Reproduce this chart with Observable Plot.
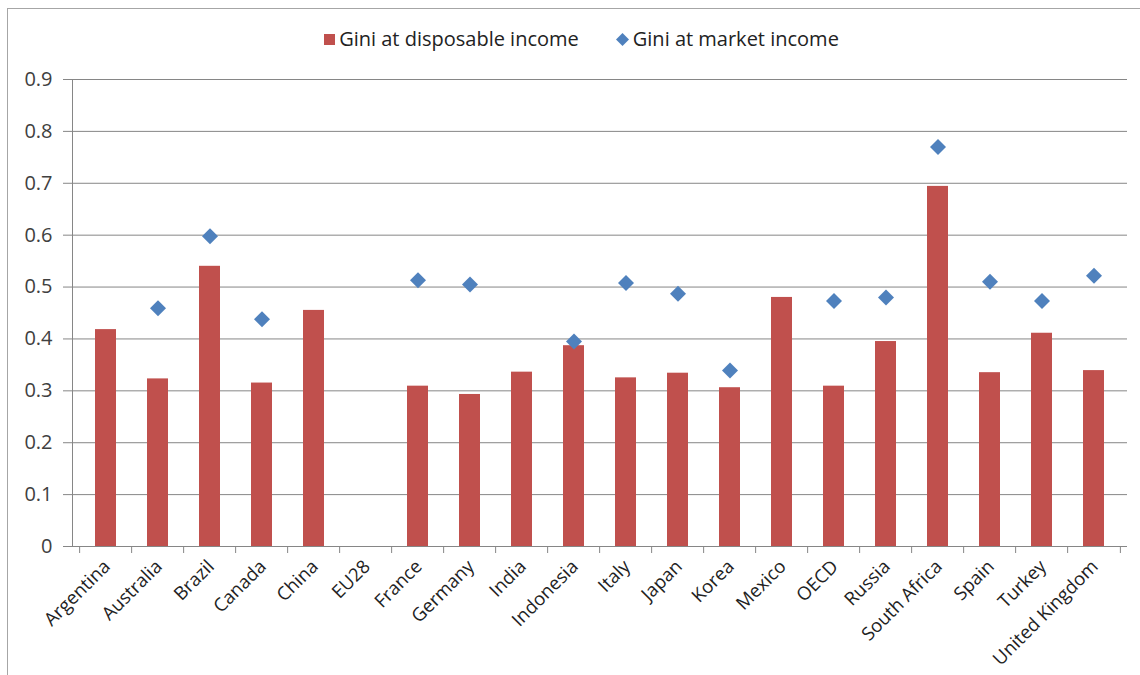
<!DOCTYPE html>
<html><head><meta charset="utf-8">
<script src="https://cdn.jsdelivr.net/npm/d3@7"></script>
<script src="https://cdn.jsdelivr.net/npm/@observablehq/plot@0.6"></script>
<style>
body{margin:0;background:#fff;font-family:"Open Sans",sans-serif;}
#wrap{position:relative;width:1140px;height:675px;overflow:hidden;background:#fff;}
#border{position:absolute;left:7px;top:8px;width:1200px;height:700px;border-top:1px solid #a6a6a6;border-left:1px solid #a6a6a6;}
#legend{position:absolute;top:27px;left:0;width:1140px;display:flex;justify-content:center;padding-left:23px;box-sizing:border-box;font-size:20px;color:#222;line-height:24px;}
#legend .item{display:flex;align-items:center;}
#legend .sw{display:inline-block;width:11px;height:11px;background:#c0504d;margin-right:4px;}
#chart{position:absolute;top:61px;left:0;}
</style></head>
<body>
<div id="wrap">
<div id="border"></div>
<div id="legend">
  <div class="item"><span class="sw"></span><span>Gini at disposable income</span></div>
  <div class="item" style="margin-left:36px"><svg width="15" height="15" style="margin-right:3px"><path d="M7.5,1 L14,7.5 L7.5,14 L1,7.5 Z" fill="#4f81bd"/></svg><span>Gini at market income</span></div>
</div>
<div id="chart"></div>
</div>
<script>
const countries = ["Argentina","Australia","Brazil","Canada","China","EU28","France","Germany","India","Indonesia","Italy","Japan","Korea","Mexico","OECD","Russia","South Africa","Spain","Turkey","United Kingdom"];
const disposable = [0.418,0.323,0.540,0.315,0.455,null,0.309,0.293,0.336,0.387,0.325,0.334,0.306,0.480,0.309,0.395,0.694,0.335,0.411,0.339];
const market = [null,0.459,0.598,0.438,null,null,0.513,0.505,null,0.395,0.508,0.487,0.339,null,0.473,0.480,0.770,0.510,0.473,0.522];
const yTicks = [0,0.1,0.2,0.3,0.4,0.5,0.6,0.7,0.8,0.9];

const W = 1140, H = 614, ML = 72, MR = 13;
const step = (W - ML - MR) / countries.length;
const rows = countries.map((c, i) => ({country: c, disposable: disposable[i], market: market[i]}));
const grid = "#868686";

const chart = Plot.plot({
  width: W, height: H,
  marginLeft: ML, marginRight: MR, marginTop: 18, marginBottom: 129,
  style: {fontFamily: "'Open Sans', sans-serif", fontSize: "18.5px", color: "#333", background: "transparent"},
  x: {domain: countries, paddingInner: 0.6, paddingOuter: 0.3, label: null},
  y: {domain: [0, 0.9], label: null},
  marks: [
    Plot.gridY(yTicks, {stroke: grid, strokeOpacity: 1, insetLeft: -9}),
    Plot.frame({anchor: "left", stroke: grid}),
    Plot.ruleX(countries, {x: d => d, y1: 0, y2: 0, dx: -step / 2, insetBottom: -7, stroke: grid}),
    Plot.ruleX(countries.slice(-1), {x: d => d, y1: 0, y2: 0, dx: step / 2, insetBottom: -7, stroke: grid}),
    Plot.barY(rows.filter(d => d.disposable != null), {x: "country", y: "disposable", fill: "#c0504d"}),
    Plot.dot(rows.filter(d => d.market != null), {x: "country", y: "market", symbol: "diamond2", fill: "#4f81bd", stroke: "none", r: 7.2}),
    Plot.axisY(yTicks, {tickSize: 0, tickPadding: 20, tickFormat: d => d === 0 ? "0" : d.toFixed(1), fontSize: 20, fill: "#404040"}),
    Plot.axisX({tickSize: 0, tickRotate: -45, tickPadding: 17, dx: 1, fontSize: 18.5, fill: "#222"})
  ]
});
document.getElementById("chart").appendChild(chart);
</script>
</body></html>
